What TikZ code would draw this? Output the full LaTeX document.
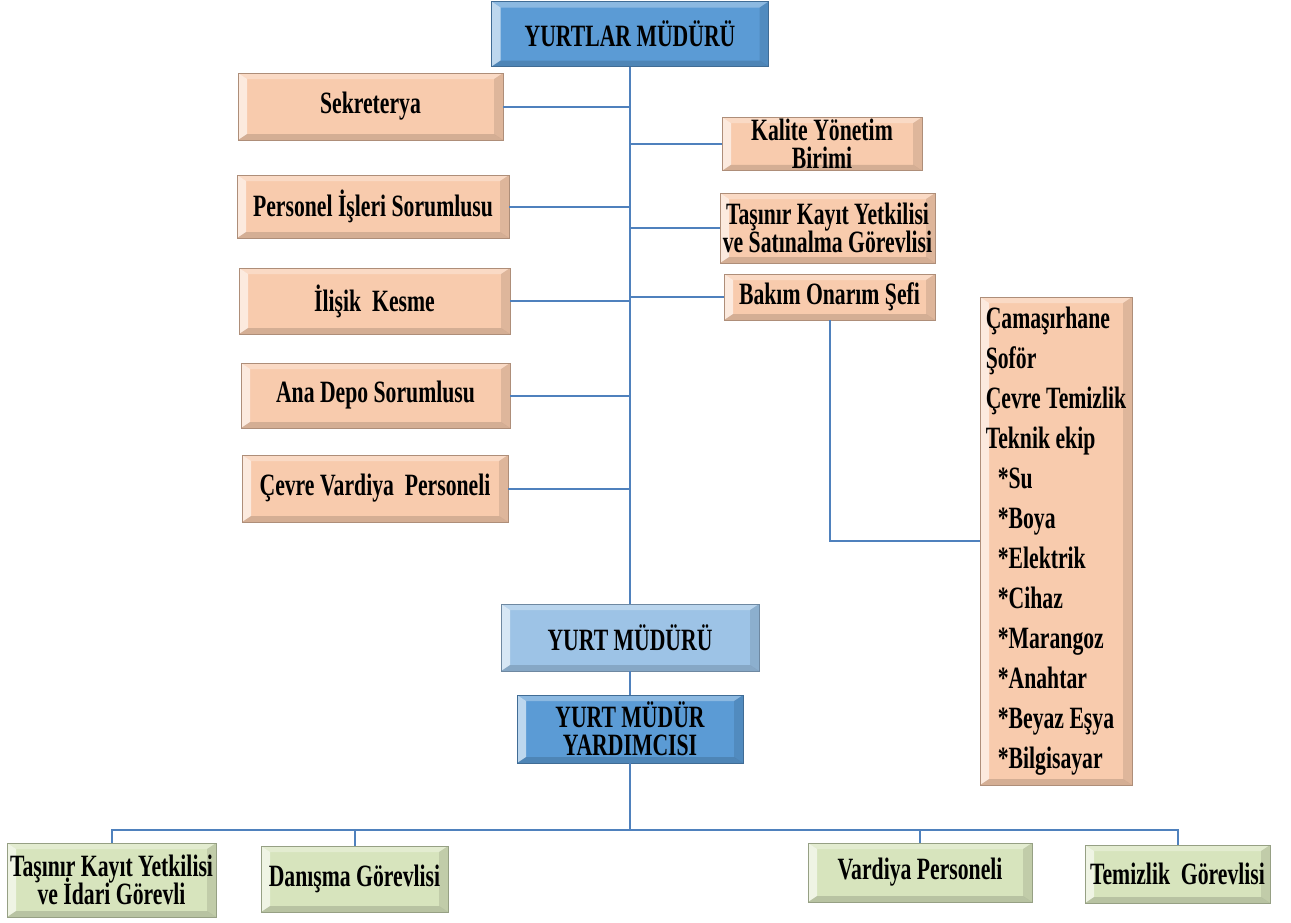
\documentclass[tikz,border=0pt]{standalone}
\usepackage{fontspec}
\setmainfont{Liberation Serif}[FakeStretch=0.70]
\usepackage{xcolor}
\usepackage{tikz}
\usetikzlibrary{positioning, calc}
\definecolor{peachfill}{HTML}{F8CBAD}
\definecolor{greenfill}{HTML}{D7E4BD}
\definecolor{bluefill}{HTML}{5B9BD5}
\definecolor{paleblue}{HTML}{9DC3E6}
\definecolor{linkblue}{HTML}{4F81BD}

\newcommand\boxfont{\bfseries\fontsize{15.5}{14}\selectfont\lineskiplimit=-20pt\relax}
\newcommand\listfont{\bfseries\fontsize{15.5}{20}\selectfont}

\tikzset{
  bevelbox/.style={draw=#1!70!black, fill=#1, line width=0.4pt, inner sep=1pt,
    align=center, font=\boxfont,
    path picture={
      \path (path picture bounding box.south west) coordinate (bsw)
            (path picture bounding box.north east) coordinate (bne);
      % light bevel on the left and top
      \fill[white, opacity=.6] (bsw) -- (bsw |- bne) -- ($(bsw |- bne)+(4.5pt,-3pt)$)
        -- ($(bsw)+(4.5pt,3pt)$) -- cycle;
      \fill[white, opacity=.3] (bsw |- bne) -- (bne) -- ($(bne)+(-4.5pt,-3pt)$)
        -- ($(bsw |- bne)+(4.5pt,-3pt)$) -- cycle;
      % dark bevel on the right and bottom
      \fill[black, opacity=.1] (bne) -- (bne |- bsw) -- ($(bne |- bsw)+(-4.5pt,3pt)$)
        -- ($(bne)+(-4.5pt,-3pt)$) -- cycle;
      \fill[black, opacity=.14] (bsw) -- (bne |- bsw) -- ($(bne |- bsw)+(-4.5pt,3pt)$)
        -- ($(bsw)+(4.5pt,3pt)$) -- cycle;
    }},
  peachbox/.style={bevelbox=peachfill},
  greenbox/.style={bevelbox=greenfill},
  bluebox/.style={bevelbox=bluefill},
  palebox/.style={bevelbox=paleblue},
  link/.style={draw=linkblue, line width=1pt}
}

\begin{document}
\begin{tikzpicture}[x=0.5pt, y=-0.5pt]
  \fill[white] (0,0) rectangle (1291,922);
  \useasboundingbox (0,0) rectangle (1291,922);

  % Heads
  \node[bluebox, minimum width=138.5pt, minimum height=32.5pt] (top) at (630,34) {YURTLAR MÜDÜRÜ};
  \node[palebox, minimum width=129pt, minimum height=33.5pt] (ymud) at (630,637.5) {YURT MÜDÜRÜ};
  \node[bluebox, minimum width=113pt, minimum height=34pt] (yard) at (630,729) {YURT MÜDÜR\\YARDIMCISI};

  % Units on the left
  \node[peachbox, minimum width=132.5pt, minimum height=33.5pt] (sek) at (370.5,106.5) {Sekreterya};
  \node[peachbox, minimum width=136pt, minimum height=31.5pt] (pers) at (373,206.5) {Personel İşleri Sorumlusu};
  \node[peachbox, minimum width=135.5pt, minimum height=33pt] (ilisik) at (374.5,301) {İlişik\ \ Kesme};
  \node[peachbox, minimum width=134.5pt, minimum height=32.5pt] (depo) at (375.5,395.5) {Ana Depo Sorumlusu};
  \node[peachbox, minimum width=133pt, minimum height=33.5pt] (cevre) at (375,488.5) {Çevre Vardiya\ \ Personeli};

  % Units on the right
  \node[peachbox, minimum width=100pt, minimum height=24pt] (kalite) at (822,144) {Kalite Yönetim\\Birimi};
  \node[peachbox, minimum width=107.5pt, minimum height=35pt] (tasinir) at (827.5,228) {Taşınır Kayıt Yetkilisi\\ve Satınalma Görevlisi};
  \node[peachbox, minimum width=105.5pt, minimum height=23pt] (bakim) at (829.5,297) {Bakım Onarım Şefi};
  \node[peachbox, minimum width=76pt, minimum height=244pt, align=left,
        font=\listfont] (liste) at (1056,541)
    {Çamaşırhane\\Şoför\\Çevre Temizlik\\Teknik\ ekip\\
     \hspace*{6pt}*Su\\\hspace*{6pt}*Boya\\\hspace*{6pt}*Elektrik\\\hspace*{6pt}*Cihaz\\
     \hspace*{6pt}*Marangoz\\\hspace*{6pt}*Anahtar\\\hspace*{6pt}*Beyaz Eşya\\\hspace*{6pt}*Bilgisayar};

  % Staff under the deputy
  \node[greenbox, minimum width=104.5pt, minimum height=37pt] (b1) at (111.5,880) {Taşınır Kayıt Yetkilisi\\ve İdari Görevli};
  \node[greenbox, minimum width=93.5pt, minimum height=33pt] (b2) at (354.5,879) {Danışma Görevlisi};
  \node[greenbox, minimum width=112pt, minimum height=29.5pt] (b3) at (920,872.5) {Vardiya Personeli};
  \node[greenbox, minimum width=92.5pt, minimum height=29pt] (b4) at (1177.5,874) {Temizlik\ \ Görevlisi};

  % Main line and branches
  \draw[link] (top.south) -- (ymud.north);
  \foreach \n in {sek, pers, ilisik, depo, cevre}
    \draw[link] (\n.east) -- (\n.east -| top.south);
  \foreach \n in {kalite, tasinir, bakim}
    \draw[link] (\n.west) -- (\n.west -| top.south);
  \draw[link] (bakim.south) |- (liste.west);
  \draw[link] (ymud.south) -- (yard.north);

  % Bus to the staff
  \coordinate (bus) at (630,830);
  \draw[link] (yard.south) -- (bus);
  \draw[link] (b1.north) |- (bus) -| (b4.north);
  \draw[link] (b2.north) |- (bus);
  \draw[link] (b3.north) |- (bus);
\end{tikzpicture}
\end{document}
